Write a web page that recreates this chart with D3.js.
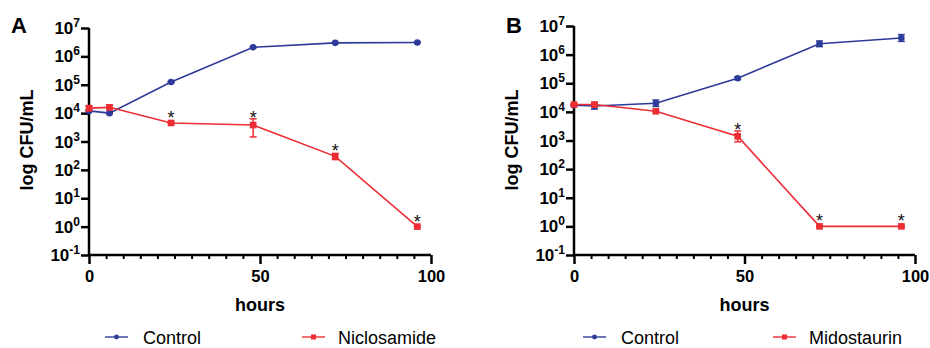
<!DOCTYPE html>
<html><head><meta charset="utf-8">
<script src="https://cdn.jsdelivr.net/npm/d3@7"></script>
<style>body{margin:0;background:#fff;} svg{display:block;}</style>
</head><body>
<svg id="c" width="930" height="348"></svg>
<script>
// ---- data ----
const hours = [0, 6, 24, 48, 72, 96];
const yTicks = [1e-1, 1e0, 1e1, 1e2, 1e3, 1e4, 1e5, 1e6, 1e7];
const yTickExp = ["-1", "0", "1", "2", "3", "4", "5", "6", "7"];
const xTicksMajor = [0, 50, 100];

const ctrlA = [1.2e4, 1.0e4, 1.25e5, 2.1e6, 3.0e6, 3.1e6];
const ctrlA_lo = [1.1e4, 0.95e4, 1.2e5, 2.0e6, 2.9e6, 3.0e6];
const ctrlA_hi = [1.3e4, 1.05e4, 1.3e5, 2.2e6, 3.1e6, 3.2e6];
const nicloA = [1.5e4, 1.6e4, 4.5e3, 3.8e3, 3.0e2, 1.0];
const nicloA_lo = [1.2e4, 1.3e4, 4.2e3, 1.45e3, 2.3e2, 0.95];
const nicloA_hi = [1.8e4, 1.9e4, 4.8e3, 6.3e3, 3.8e2, 1.05];
const starA = [false, false, true, true, true, true];

const ctrlB = [1.7e4, 1.6e4, 2.0e4, 1.5e5, 2.4e6, 3.8e6];
const ctrlB_lo = [1.6e4, 1.25e4, 1.55e4, 1.35e5, 1.9e6, 2.9e6];
const ctrlB_hi = [1.8e4, 2.05e4, 2.6e4, 1.65e5, 3.0e6, 5.0e6];
const midoB = [1.8e4, 1.8e4, 1.05e4, 1.4e3, 1.0, 1.0];
const midoB_lo = [1.7e4, 1.5e4, 1.0e4, 0.9e3, 0.95, 0.95];
const midoB_hi = [1.9e4, 2.15e4, 1.1e4, 2.15e3, 1.05, 1.05];
const starB = [false, false, false, true, true, true];

const BLUE = "#2E3A99", RED = "#EC2D34";
const FONT = "'Liberation Sans', Arial, Helvetica, sans-serif";

const svg = d3.select("#c").style("font-family", FONT);

function panel(cfg) {
  const x = d3.scaleLinear().domain([0, 100]).range([cfg.x0, cfg.x1]);
  const y = d3.scaleLog().domain([1e-1, 1e7]).range([255, cfg.yTop]);
  const g = svg.append("g");

  g.append("text").attr("x", cfg.letterX).attr("y", 33).attr("font-size", 22)
    .attr("font-weight", "bold").text(cfg.letter);

  // y axis
  const ya = g.append("g").attr("transform", `translate(${cfg.x0},0)`)
    .call(d3.axisLeft(y).tickValues(yTicks).tickSize(8).tickFormat(() => ""));
  ya.selectAll("path,line").attr("stroke", "#000").attr("stroke-width", 2.5);
  ya.select(".domain").attr("d", `M0,${y(1e-1)}V${y(1e7)}`);
  yTicks.forEach((v, i) => {
    const t = g.append("text").attr("x", cfg.x0 - 9).attr("y", y(v) + 6)
      .attr("text-anchor", "end").attr("font-weight", "bold").attr("font-size", 17);
    t.append("tspan").text("10");
    t.append("tspan").attr("dy", -7).attr("font-size", 12).text(yTickExp[i]);
  });

  // x axis: minor ticks every 5, majors longer
  const minor = d3.range(0, 101, 5).filter(v => !xTicksMajor.includes(v));
  const xm = g.append("g").attr("transform", `translate(0,${y(1e-1)})`)
    .call(d3.axisBottom(x).tickValues(minor).tickSize(4).tickFormat(() => ""));
  xm.select(".domain").remove();
  xm.selectAll("line").attr("stroke", "#000").attr("stroke-width", 2);
  const xa = g.append("g").attr("transform", `translate(0,${y(1e-1)})`)
    .call(d3.axisBottom(x).tickValues(xTicksMajor).tickSize(9).tickPadding(6).tickSizeOuter(0));
  xa.select(".domain").attr("d", `M${cfg.x0},0H${cfg.x1}`);
  xa.selectAll("path,line").attr("stroke", "#000").attr("stroke-width", 2.5);
  xa.selectAll("text").attr("font-family", FONT).attr("font-size", 16.5)
    .attr("font-weight", "bold").attr("fill", "#000").attr("dy", "0.71em");

  g.append("text").attr("x", (cfg.x0 + cfg.x1) / 2).attr("y", 311)
    .attr("text-anchor", "middle").attr("font-size", 18).attr("font-weight", "bold").text("hours");
  g.append("text").attr("transform", `translate(${cfg.titleX},140) rotate(-90)`)
    .attr("text-anchor", "middle").attr("font-size", 18).attr("font-weight", "bold").text("log CFU/mL");

  const line = d3.line().x((d, i) => x(hours[i])).y(d => y(d));

  function series(vals, lo, hi, color, shape) {
    const s = g.append("g");
    vals.forEach((v, i) => {
      const cx = x(hours[i]);
      s.append("line").attr("x1", cx).attr("x2", cx).attr("y1", y(lo[i])).attr("y2", y(hi[i]))
        .attr("stroke", color).attr("stroke-width", 1.5);
      [lo[i], hi[i]].forEach(e => s.append("line").attr("x1", cx - 3.5).attr("x2", cx + 3.5)
        .attr("y1", y(e)).attr("y2", y(e)).attr("stroke", color).attr("stroke-width", 1.5));
    });
    s.append("path").attr("d", line(vals)).attr("fill", "none").attr("stroke", color).attr("stroke-width", 1.6);
    vals.forEach((v, i) => {
      const cx = x(hours[i]), cy = y(v);
      if (shape === "circle") s.append("circle").attr("cx", cx).attr("cy", cy).attr("r", 3.3).attr("fill", color);
      else s.append("rect").attr("x", cx - 3.3).attr("y", cy - 3.3).attr("width", 6.6).attr("height", 6.6).attr("fill", color);
    });
  }
  series(cfg.ctrl, cfg.ctrlLo, cfg.ctrlHi, BLUE, "circle");
  series(cfg.trt, cfg.trtLo, cfg.trtHi, RED, "rect");

  cfg.trt.forEach((v, i) => {
    if (!cfg.star[i]) return;
    const cy = Math.min(y(v) - 9, y(cfg.trtHi[i]) - 5);
    g.append("text").attr("x", x(hours[i])).attr("y", cy + 10).attr("text-anchor", "middle")
      .attr("font-size", 18).attr("fill", "#111").text("*");
  });

  const ly = 337;
  function leg(lx, tx, color, shape, label) {
    g.append("line").attr("x1", lx).attr("x2", lx + 23).attr("y1", ly).attr("y2", ly)
      .attr("stroke", color).attr("stroke-width", 1.4);
    if (shape === "circle") g.append("circle").attr("cx", lx + 11.5).attr("cy", ly).attr("r", 2.4).attr("fill", color);
    else g.append("rect").attr("x", lx + 9).attr("y", ly - 2.5).attr("width", 5).attr("height", 5).attr("fill", color);
    g.append("text").attr("x", tx).attr("y", ly + 6.5).attr("font-size", 18).text(label);
  }
  leg(cfg.leg1, cfg.leg1 + 38, BLUE, "circle", "Control");
  leg(cfg.leg2, cfg.leg2 + 36, RED, "rect", cfg.trtName);
}

panel({letter: "A", letterX: 11, x0: 89, x1: 431, yTop: 28, titleX: 33,
  ctrl: ctrlA, ctrlLo: ctrlA_lo, ctrlHi: ctrlA_hi,
  trt: nicloA, trtLo: nicloA_lo, trtHi: nicloA_hi, star: starA,
  trtName: "Niclosamide", leg1: 105, leg2: 302});
panel({letter: "B", letterX: 506, x0: 574, x1: 915, yTop: 26, titleX: 518,
  ctrl: ctrlB, ctrlLo: ctrlB_lo, ctrlHi: ctrlB_hi,
  trt: midoB, trtLo: midoB_lo, trtHi: midoB_hi, star: starB,
  trtName: "Midostaurin", leg1: 583, leg2: 773});
</script>
</body></html>
